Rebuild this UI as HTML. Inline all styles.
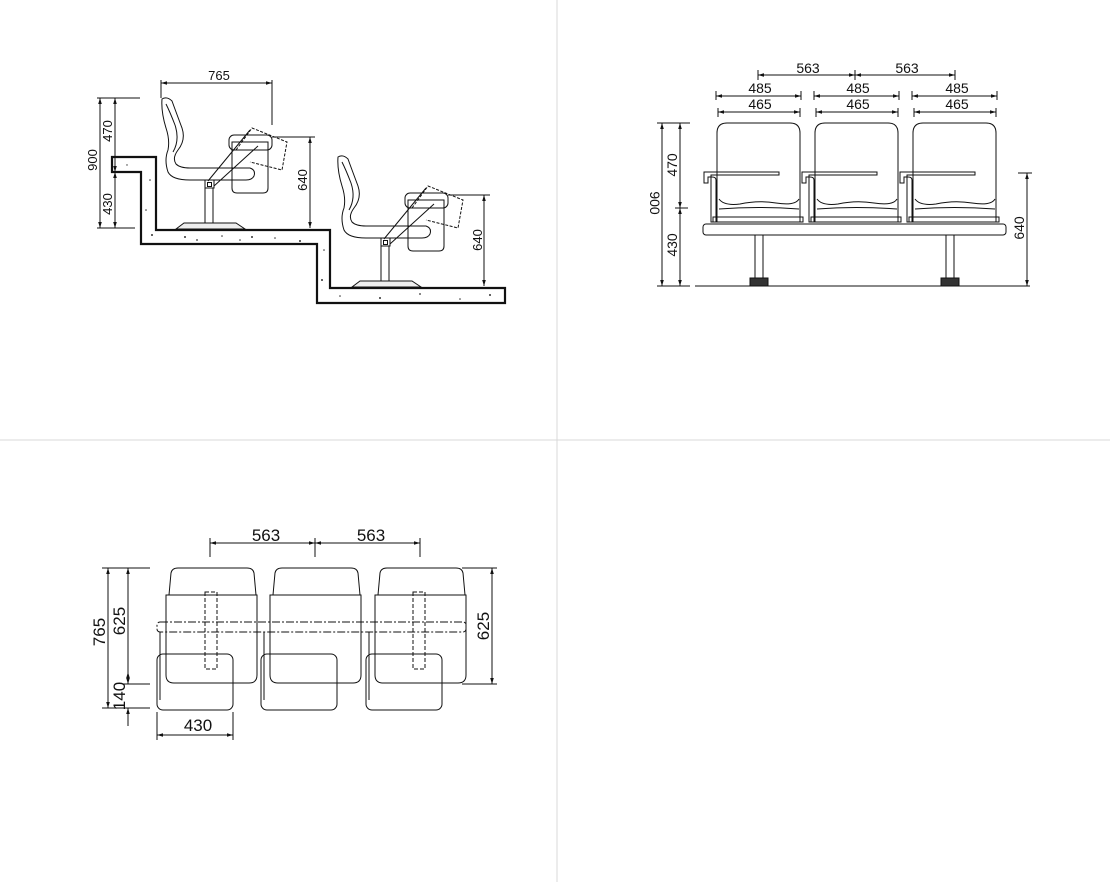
<!DOCTYPE html>
<html><head><meta charset="utf-8"><style>
html,body{margin:0;padding:0;background:#fff;}
svg{display:block;}
text{font-family:"Liberation Sans",Arial,sans-serif;fill:#111;}
</style></head><body>
<svg width="1110" height="882" viewBox="0 0 1110 882" xmlns="http://www.w3.org/2000/svg">
<defs>
<marker id="a" viewBox="0 0 10 10" refX="10" refY="5" markerWidth="6" markerHeight="6" orient="auto-start-reverse"><path d="M0,2 L10,5 L0,8 z" fill="#111"/></marker>
</defs>
<line x1="557" y1="0" x2="557" y2="882" stroke="#d8d8d8" stroke-width="1"/>
<line x1="0" y1="440" x2="1110" y2="440" stroke="#d8d8d8" stroke-width="1"/>

<g stroke="#111" fill="none" stroke-width="1">
<path d="M112,157 L156,157 L156,230 L330,230 L330,288 L505,288 L505,303 L317,303 L317,244 L141,244 L141,172 L112,172 Z" fill="#fff" stroke-width="2.2"/>
<g fill="#333" stroke="none">
<circle cx="150" cy="180" r="0.8"/><circle cx="146" cy="210" r="0.8"/><circle cx="152" cy="235" r="1"/><circle cx="185" cy="237" r="1"/><circle cx="197" cy="240" r="0.9"/><circle cx="240" cy="240" r="0.8"/><circle cx="252" cy="237" r="1"/><circle cx="275" cy="238" r="0.8"/><circle cx="300" cy="241" r="1"/><circle cx="324" cy="250" r="0.8"/><circle cx="322" cy="280" r="1"/><circle cx="340" cy="296" r="0.8"/><circle cx="380" cy="298" r="1"/><circle cx="420" cy="294" r="0.9"/><circle cx="460" cy="299" r="0.8"/><circle cx="490" cy="295" r="1"/><circle cx="222" cy="236" r="0.8"/><circle cx="127" cy="165" r="0.7"/>
</g>
<line x1="97" y1="98" x2="140" y2="98"/><line x1="97" y1="228" x2="135" y2="228"/>
<line x1="100" y1="98" x2="100" y2="228" marker-start="url(#a)" marker-end="url(#a)"/>
<line x1="115" y1="98" x2="115" y2="172" marker-start="url(#a)" marker-end="url(#a)"/>
<line x1="115" y1="172" x2="115" y2="228" marker-start="url(#a)" marker-end="url(#a)"/>
<line x1="161" y1="80" x2="161" y2="98"/><line x1="272" y1="80" x2="272" y2="125"/>
<line x1="161" y1="83" x2="272" y2="83" marker-start="url(#a)" marker-end="url(#a)"/>
<line x1="272" y1="137" x2="315" y2="137"/><line x1="310" y1="137" x2="310" y2="228" marker-start="url(#a)" marker-end="url(#a)"/>
<line x1="448" y1="195" x2="490" y2="195"/><line x1="484" y1="195" x2="484" y2="286" marker-start="url(#a)" marker-end="url(#a)"/>
<g id="ch">
<path d="M162,99 Q167,96 172,101 Q176,112 182,128 Q186,140 178,150 Q172,158 176,164 Q180,168 190,168 L250,168 Q256,170 254,176 Q252,180 246,180 L190,180 Q172,180 168,172 Q164,160 168,150 Q170,140 166,128 Q161,112 162,99 Z"/>
<path d="M166,104 Q170,112 175,125 Q180,140 173,152"/>
<rect x="205" y="188" width="8" height="36"/>
<rect x="205" y="180" width="9" height="8"/><rect x="207.5" y="182.5" width="4" height="4"/>
<path d="M176,229 L184,223 L236,223 L245,229 Z" fill="#eee"/>
<path d="M232,142 L268,142 L268,188 Q268,193 263,193 L237,193 Q232,193 232,188 Z"/>
<rect x="229" y="135" width="43" height="15" rx="5"/>
<path d="M236,150 L252,128 L287,142 L282,170 L250,162" stroke-dasharray="3,1.5"/>
<line x1="208" y1="181" x2="250" y2="130"/><line x1="214" y1="186" x2="258" y2="146"/>
</g>
<use href="#ch" transform="translate(176,58)"/>
</g>
<text x="219" y="80" font-size="13" text-anchor="middle">765</text>
<text transform="translate(97,160) rotate(-90)" font-size="13" text-anchor="middle">900</text>
<text transform="translate(112,131) rotate(-90)" font-size="13" text-anchor="middle">470</text>
<text transform="translate(112,204) rotate(-90)" font-size="13" text-anchor="middle">430</text>
<text transform="translate(307,180) rotate(-90)" font-size="13" text-anchor="middle">640</text>
<text transform="translate(482,240) rotate(-90)" font-size="13" text-anchor="middle">640</text>

<g stroke="#111" fill="none" stroke-width="1">
<g id="fs">
<path d="M717,133 Q717,123 727,123 L790,123 Q800,123 800,133 L800,222 L717,222 Z"/>
<path d="M719,199 Q724,206 740,204 Q758,200 776,203 Q795,206 799,199"/>
<path d="M719,209 Q758,206 799,209"/>
<rect x="713" y="217" width="90" height="5"/>
<path d="M704,183 L704,172 L779,172 L779,175 L711,175 L711,222 L716,222 L716,180 Q716,177 712,177 L708,177 L708,183 Z"/>
</g>
<use href="#fs" transform="translate(98,0)"/>
<use href="#fs" transform="translate(196,0)"/>
<rect x="703" y="224" width="303" height="11" rx="3" fill="#fff"/>
<rect x="755" y="235" width="8" height="43"/><rect x="750" y="278" width="18" height="8" fill="#333"/>
<rect x="946" y="235" width="8" height="43"/><rect x="941" y="278" width="18" height="8" fill="#333"/>
<line x1="695" y1="286" x2="1030" y2="286"/>
<line x1="758" y1="70" x2="758" y2="80"/><line x1="855" y1="70" x2="855" y2="80"/><line x1="955" y1="70" x2="955" y2="80"/>
<line x1="758" y1="75" x2="855" y2="75" marker-start="url(#a)" marker-end="url(#a)"/>
<line x1="855" y1="75" x2="955" y2="75" marker-start="url(#a)" marker-end="url(#a)"/>
<g id="dd">
<line x1="716" y1="91" x2="716" y2="100"/><line x1="801" y1="91" x2="801" y2="100"/>
<line x1="716" y1="96" x2="801" y2="96" marker-start="url(#a)" marker-end="url(#a)"/>
<line x1="718" y1="108" x2="718" y2="117"/><line x1="800" y1="108" x2="800" y2="117"/>
<line x1="718" y1="112" x2="800" y2="112" marker-start="url(#a)" marker-end="url(#a)"/>
</g>
<use href="#dd" transform="translate(98,0)"/><use href="#dd" transform="translate(196,0)"/>
<line x1="657" y1="123" x2="690" y2="123"/><line x1="657" y1="286" x2="690" y2="286"/>
<line x1="662" y1="123" x2="662" y2="286" marker-start="url(#a)" marker-end="url(#a)"/>
<line x1="680" y1="123" x2="680" y2="208" marker-start="url(#a)" marker-end="url(#a)"/>
<line x1="680" y1="208" x2="680" y2="286" marker-start="url(#a)" marker-end="url(#a)"/>
<line x1="675" y1="208" x2="688" y2="208"/>
<line x1="1018" y1="173" x2="1032" y2="173"/>
<line x1="1027" y1="173" x2="1027" y2="286" marker-start="url(#a)" marker-end="url(#a)"/>
</g>
<g font-size="14" text-anchor="middle">
<text x="808" y="73">563</text><text x="907" y="73">563</text>
<text x="760" y="93">485</text><text x="858" y="93">485</text><text x="957" y="93">485</text>
<text x="760" y="109">465</text><text x="858" y="109">465</text><text x="957" y="109">465</text>
<text transform="translate(650,203) rotate(90)">900</text>
<text transform="translate(677,165) rotate(-90)">470</text>
<text transform="translate(677,245) rotate(-90)">430</text>
<text transform="translate(1024,228) rotate(-90)">640</text>
</g>

<g stroke="#111" fill="none" stroke-width="1">
<g id="ts">
<path d="M169,595 L171,573 Q172,568 178,568 L247,568 Q253,568 254,573 L256,595 Z"/>
<path d="M166,595 L257,595 L257,675 Q257,683 249,683 L174,683 Q166,683 166,675 Z"/>
<rect x="157" y="654" width="76" height="56" rx="6" fill="none"/>
<line x1="160" y1="632" x2="160" y2="700"/>
</g>
<use href="#ts" transform="translate(104,0)"/>
<use href="#ts" transform="translate(209,0)"/>
<rect x="205" y="592" width="12" height="77" stroke-dasharray="4,2"/>
<rect x="413" y="592" width="12" height="77" stroke-dasharray="4,2"/>
<rect x="157" y="622" width="309" height="10" rx="3" stroke-dasharray="8,2,2,2"/>
<line x1="210" y1="538" x2="210" y2="557"/><line x1="315" y1="538" x2="315" y2="557"/><line x1="420" y1="538" x2="420" y2="557"/>
<line x1="210" y1="543" x2="315" y2="543" marker-start="url(#a)" marker-end="url(#a)"/>
<line x1="315" y1="543" x2="420" y2="543" marker-start="url(#a)" marker-end="url(#a)"/>
<line x1="102" y1="568" x2="150" y2="568"/><line x1="122" y1="684" x2="150" y2="684"/><line x1="102" y1="708" x2="150" y2="708"/>
<line x1="108" y1="568" x2="108" y2="708" marker-start="url(#a)" marker-end="url(#a)"/>
<line x1="128" y1="568" x2="128" y2="684" marker-start="url(#a)" marker-end="url(#a)"/>
<line x1="128" y1="684" x2="128" y2="672" marker-end="url(#a)"/>
<line x1="128" y1="726" x2="128" y2="708" marker-end="url(#a)"/>
<line x1="462" y1="568" x2="497" y2="568"/><line x1="462" y1="684" x2="497" y2="684"/>
<line x1="492" y1="568" x2="492" y2="684" marker-start="url(#a)" marker-end="url(#a)"/>
<line x1="157" y1="712" x2="157" y2="740"/><line x1="233" y1="712" x2="233" y2="740"/>
<line x1="157" y1="735" x2="233" y2="735" marker-start="url(#a)" marker-end="url(#a)"/>
</g>
<g font-size="17" text-anchor="middle">
<text x="266" y="541">563</text><text x="371" y="541">563</text>
<text transform="translate(105,632) rotate(-90)">765</text>
<text transform="translate(125,621) rotate(-90)">625</text>
<text transform="translate(125,696) rotate(-90)">140</text>
<text transform="translate(489,626) rotate(-90)">625</text>
<text x="198" y="731">430</text>
</g>
</svg>
</body></html>
